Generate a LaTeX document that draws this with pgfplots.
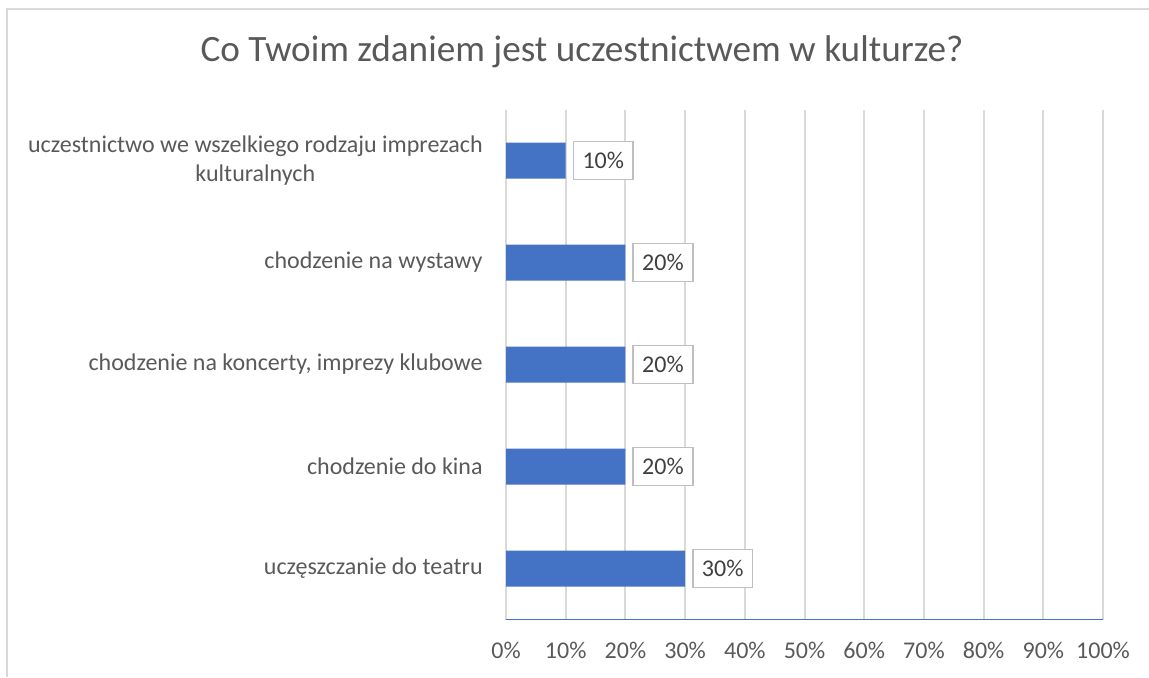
\documentclass[border=0pt]{standalone}
\usepackage{fontspec}
\setmainfont{Carlito}
\usepackage{pgfplots}
\pgfplotsset{compat=1.18}
\definecolor{barc}{HTML}{4472C4}
\definecolor{framec}{HTML}{D9D9D9}
\definecolor{gridc}{HTML}{D9D9D9}
\definecolor{txt}{HTML}{595959}
\definecolor{lbltxt}{HTML}{404040}
\definecolor{lblborder}{HTML}{BFBFBF}
\begin{document}
\begin{tikzpicture}
\begin{scope}[x=0.5bp,y=-0.5bp]
\path[use as bounding box] (0,0) rectangle (1149,677);
\draw[color=framec, line width=1bp] (7,677) -- (7,9) -- (1149,9);
\node[font=\fontsize{18.6bp}{22bp}\selectfont, text=txt] at (582,52) {Co Twoim zdaniem jest uczestnictwem w kulturze?};
\end{scope}
\begin{axis}[
  at={(253bp,-309.75bp)}, anchor=south west,
  width=298.5bp, height=255bp, scale only axis,
  xmin=0, xmax=100, ymin=-0.5, ymax=4.5,
  xbar, bar width=18bp,
  /pgf/number format/assume math mode=true,
  axis line style={draw=none},
  major tick length=0pt,
  xtick={0,10,...,100},
  xticklabel={\pgfmathprintnumber{\tick}\%},
  xmajorgrids, grid style={color=gridc, line width=1bp},
  ytick={0,1,2,3,4},
  yticklabels={uczęszczanie do teatru, chodzenie do kina, {chodzenie na koncerty, imprezy klubowe}, chodzenie na wystawy, {uczestnictwo we wszelkiego rodzaju imprezach\\kulturalnych}},
  tick label style={font=\fontsize{12bp}{14.5bp}\selectfont, text=txt},
  yticklabel style={align=center, inner xsep=0pt, xshift=-11.5bp},
  xticklabel style={inner ysep=0pt, yshift=-11bp},
  nodes near coords={\pgfmathprintnumber{\pgfplotspointmeta}\%},
  nodes near coords style={draw=lblborder, line width=0.8bp, fill=white, text=lbltxt, anchor=west, xshift=3.5bp, minimum height=19bp, inner xsep=4.5bp, font=\fontsize{12bp}{14.5bp}\selectfont},
]
\addplot[fill=barc, draw=none] coordinates {(30,0) (20,1) (20,2) (20,3) (10,4)};
\draw[barc, line width=1bp] (rel axis cs:0,0) -- (rel axis cs:1,0);
\end{axis}
\end{tikzpicture}
\end{document}
